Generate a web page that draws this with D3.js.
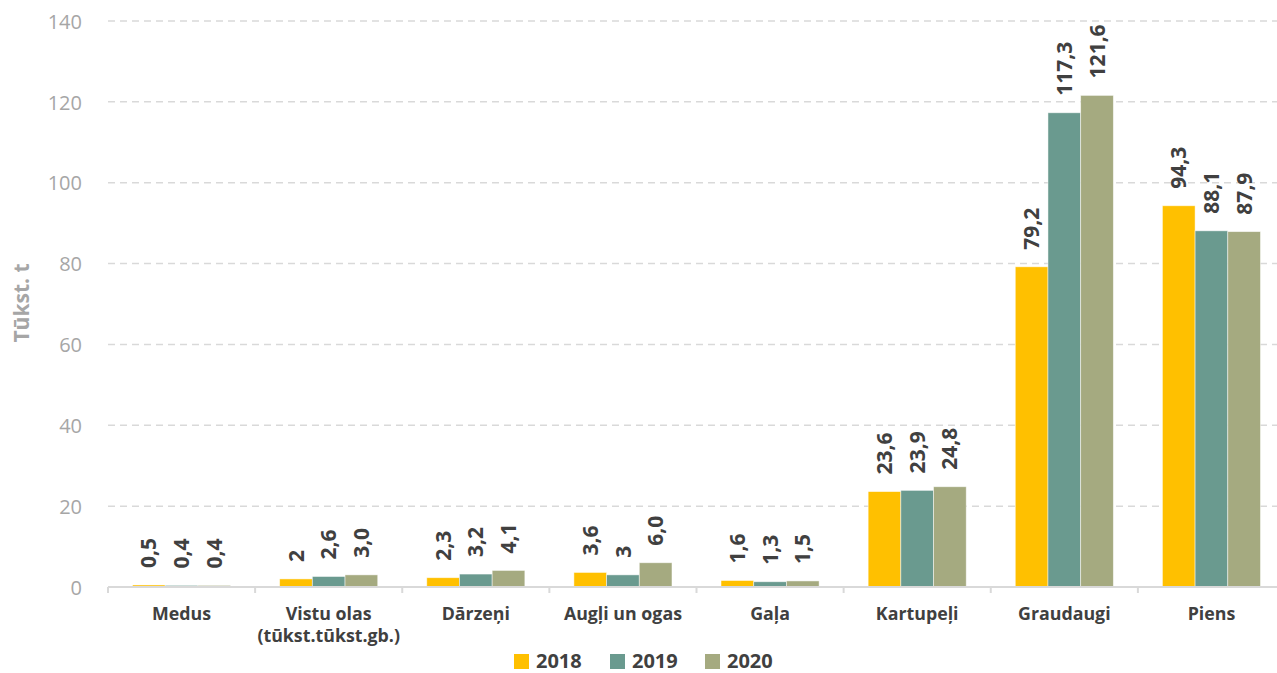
<!DOCTYPE html>
<html>
<head>
<meta charset="utf-8">
<script src="https://cdn.jsdelivr.net/npm/d3@7"></script>
<style>
  html, body { margin: 0; padding: 0; background: #fff; }
  svg { display: block; }
</style>
</head>
<body>
<svg id="chart" width="1277" height="673"></svg>
<script>
// Produkcijas apjomi pa gadiem, tūkst. t
const categories = [
  ["Medus"],
  ["Vistu olas", "(tūkst.tūkst.gb.)"],
  ["Dārzeņi"],
  ["Augļi un ogas"],
  ["Gaļa"],
  ["Kartupeļi"],
  ["Graudaugi"],
  ["Piens"]
];
const years = ["2018", "2019", "2020"];
const values2018 = [0.5, 2, 2.3, 3.6, 1.6, 23.6, 79.2, 94.3];
const values2019 = [0.4, 2.6, 3.2, 3, 1.3, 23.9, 117.3, 88.1];
const values2020 = [0.4, 3.0, 4.1, 6.0, 1.5, 24.8, 121.6, 87.9];
// number of decimals shown in each value label
const decimals2018 = [1, 0, 1, 1, 1, 1, 1, 1];
const decimals2019 = [1, 1, 1, 0, 1, 1, 1, 1];
const decimals2020 = [1, 1, 1, 1, 1, 1, 1, 1];
const yTicks = [0, 20, 40, 60, 80, 100, 120, 140];
const colors = ["#FFC000", "#6A9A8F", "#A5AA80"];

const series = [values2018, values2019, values2020];
const decimals = [decimals2018, decimals2019, decimals2020];

const svg = d3.select("#chart");
const plotLeft = 108, plotRight = 1285, plotTop = 21, plotBottom = 587;

const x0 = d3.scaleBand()
  .domain(d3.range(categories.length))
  .range([plotLeft, plotRight])
  .paddingInner(1 / 3)
  .paddingOuter(1 / 6);
const x1 = d3.scaleBand()
  .domain(d3.range(years.length))
  .range([0, x0.bandwidth()]);
const y = d3.scaleLinear().domain([0, 140]).range([plotBottom, plotTop]);

const fmt = (v, d) => d3.format("." + d + "f")(v).replace(".", ",");

// horizontal dashed gridlines
svg.append("g")
  .selectAll("line")
  .data(yTicks.filter(t => t > 0))
  .join("line")
  .attr("x1", plotLeft).attr("x2", plotRight)
  .attr("y1", d => y(d)).attr("y2", d => y(d))
  .attr("stroke", "#d9d9d9")
  .attr("stroke-width", 1.5)
  .attr("stroke-dasharray", "7,5");

// y axis labels
const yAxis = svg.append("g")
  .attr("transform", `translate(${plotLeft},0)`)
  .call(d3.axisLeft(y).tickValues(yTicks).tickSize(0).tickPadding(26));
yAxis.select(".domain").remove();
yAxis.selectAll("text")
  .attr("fill", "#a6a6a6")
  .attr("font-family", "Open Sans, sans-serif")
  .attr("font-size", 20)
  .attr("dy", "0.36em");

// y axis title
svg.append("text")
  .attr("transform", `translate(29,303) rotate(-90)`)
  .attr("text-anchor", "middle")
  .attr("fill", "#a6a6a6")
  .attr("font-family", "Open Sans, sans-serif")
  .attr("font-weight", "bold")
  .attr("font-size", 21)
  .text("Tūkst. t");

// bars
const groups = svg.append("g")
  .selectAll("g")
  .data(categories.map((c, i) => i))
  .join("g")
  .attr("transform", i => `translate(${x0(i)},0)`);

groups.selectAll("rect")
  .data(i => series.map((s, k) => ({ k, v: s[i], d: decimals[k][i] })))
  .join("rect")
  .attr("x", d => x1(d.k))
  .attr("width", x1.bandwidth())
  .attr("y", d => y(d.v))
  .attr("height", d => y(0) - y(d.v))
  .attr("fill", d => colors[d.k])
  .attr("stroke", "#ffffff")
  .attr("stroke-opacity", 0.6)
  .attr("stroke-width", 0.8);

// value labels, rotated
groups.selectAll("text.val")
  .data(i => series.map((s, k) => ({ k, v: s[i], d: decimals[k][i] })))
  .join("text")
  .attr("class", "val")
  .attr("transform", d => `translate(${x1(d.k) + x1.bandwidth() / 2},${y(d.v) - 17}) rotate(-90)`)
  .attr("dy", "0.36em")
  .attr("text-anchor", "start")
  .attr("fill", "#404040")
  .attr("font-family", "Open Sans, sans-serif")
  .attr("font-weight", "bold")
  .attr("font-size", 21)
  .text(d => fmt(d.v, d.d));

// x axis line and category ticks
svg.append("line")
  .attr("x1", plotLeft).attr("x2", plotRight)
  .attr("y1", plotBottom).attr("y2", plotBottom)
  .attr("stroke", "#d9d9d9").attr("stroke-width", 2);
const step = x0.step();
svg.append("g")
  .selectAll("line")
  .data(d3.range(categories.length + 1))
  .join("line")
  .attr("x1", i => plotLeft + i * step).attr("x2", i => plotLeft + i * step)
  .attr("y1", plotBottom).attr("y2", plotBottom + 6)
  .attr("stroke", "#d9d9d9").attr("stroke-width", 2);

// category labels
const catText = svg.append("g")
  .selectAll("text")
  .data(categories)
  .join("text")
  .attr("x", (c, i) => x0(i) + x0.bandwidth() / 2)
  .attr("y", 620)
  .attr("text-anchor", "middle")
  .attr("fill", "#404040")
  .attr("font-family", "Open Sans, sans-serif")
  .attr("font-weight", "bold")
  .attr("font-size", 17.8);
catText.selectAll("tspan")
  .data(c => c)
  .join("tspan")
  .attr("x", function () { return this.parentNode.getAttribute("x"); })
  .attr("dy", (t, j) => j === 0 ? 0 : 22)
  .text(t => t);

// legend
const legendX = [514, 610, 705];
const legend = svg.append("g")
  .selectAll("g")
  .data(years)
  .join("g")
  .attr("transform", (d, i) => `translate(${legendX[i]},654)`);
legend.append("rect")
  .attr("width", 15).attr("height", 15)
  .attr("fill", (d, i) => colors[i]);
legend.append("text")
  .attr("x", 22).attr("y", 14)
  .attr("fill", "#404040")
  .attr("font-family", "Open Sans, sans-serif")
  .attr("font-weight", "bold")
  .attr("font-size", 20)
  .text(d => d);
</script>
</body>
</html>
